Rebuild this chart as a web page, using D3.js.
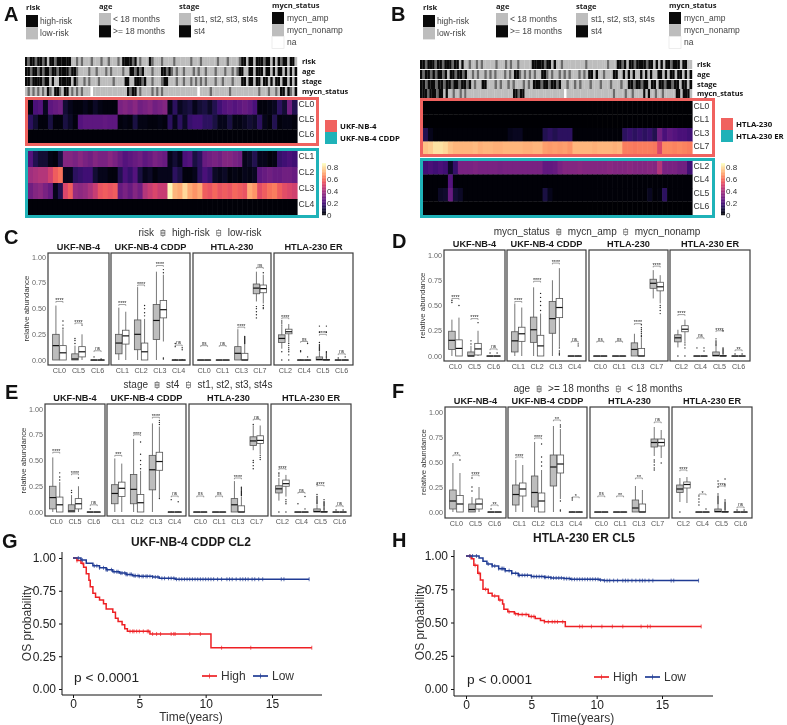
<!DOCTYPE html>
<html><head><meta charset="utf-8">
<script src="https://cdn.jsdelivr.net/npm/d3@7"></script>
<style>
html,body{margin:0;padding:0;background:#fff}
svg{display:block;font-family:"Liberation Sans",Arial,sans-serif;filter:blur(0.45px)}
.b{font-family:"Open Sans","Noto Sans",sans-serif;font-weight:700}
</style></head><body>
<svg id="c" width="787" height="725"></svg>
<script>
// ---------- heatmap data (values x100) ----------
const heatA_rows = ["CL0","CL5","CL6","CL1","CL2","CL3","CL4"];
const heatA_CL0 = [2,20,22,5,24,26,28,8,4,2,2,4,2,6,3,2,2,2,30,32,30,33,28,30,32,28,30,32,4,14,5,8,10,4,8,10,6,12,18,22,24,22,24,26,24,20,2,2,3,5,14,8,28,12];
const heatA_CL5 = [14,8,2,2,10,2,2,10,6,2,22,24,24,24,24,25,24,24,2,3,2,10,3,3,2,2,3,2,14,4,14,6,16,18,18,14,14,10,4,4,10,3,3,5,8,6,14,4,2,12,2,3,3,2];
const heatA_CL6 = [1,1,1,1,1,1,1,1,1,1,1,1,1,1,1,1,1,1,1,1,1,1,1,1,1,1,1,1,1,1,1,1,1,1,1,1,1,1,1,1,1,1,1,1,1,1,1,1,1,1,1,1,1,1];
const heatA_CL1 = [22,12,8,8,3,2,10,32,32,30,33,30,28,32,30,30,33,30,26,22,24,26,28,24,26,30,28,26,4,8,4,20,22,10,14,26,28,30,28,32,32,30,28,4,6,12,4,4,2,3,16,18,20,18];
const heatA_CL2 = [38,40,42,42,48,56,60,4,4,14,16,18,18,8,4,4,2,2,12,20,16,22,10,4,6,2,4,4,4,14,10,2,2,4,14,20,16,6,4,6,2,3,2,4,3,5,24,26,28,26,26,28,28,26];
const heatA_CL3 = [28,32,34,30,26,4,12,50,56,36,34,36,40,46,54,56,54,56,26,30,26,32,28,42,46,50,46,46,84,72,70,78,70,66,70,56,54,58,54,56,54,58,56,54,70,66,52,56,60,62,56,52,50,48];
const heatA_CL4 = [1,1,1,1,1,1,1,1,1,1,1,1,1,1,1,1,1,1,1,1,1,1,1,1,1,1,1,1,1,1,1,1,1,1,1,1,1,1,1,1,1,1,1,1,1,1,1,1,1,1,1,1,1,1];
const heatB_rows = ["CL0","CL1","CL3","CL7","CL2","CL4","CL5","CL6"];
const heatB_CL0 = [0,0,0,0,0,0,0,0,0,0,0,0,0,0,0,0,0,0,0,0,0,0,0,0,0,0,0,0,0,0,0,0,0,0,0,0,0,0,0,0,0,0,0,0,0,0,0,0,0,0,0,0,0,0];
const heatB_CL1 = heatB_CL0;
const heatB_CL3 = [12,4,1,1,1,1,1,1,1,1,1,1,1,1,1,1,1,4,5,5,1,1,1,1,12,14,12,14,14,14,1,1,1,1,1,1,1,1,1,1,14,16,14,16,14,16,12,28,20,24,22,20,20,18];
const heatB_CL7 = [74,76,80,80,78,74,72,72,72,72,73,71,72,72,71,71,72,72,72,72,71,71,72,72,68,67,68,67,68,66,72,72,72,72,71,72,72,72,71,72,62,62,61,62,62,62,61,50,64,64,63,64,63,62];
const heatB_CL2 = [18,20,18,20,18,6,16,30,30,30,31,30,30,30,30,29,30,30,30,30,30,30,30,30,25,25,26,30,32,32,32,33,32,32,32,32,32,33,32,32,32,33,32,32,32,33,32,42,30,30,30,28,28,18];
const heatB_CL4 = [1,1,1,1,1,22,1,1,1,1,1,1,1,1,1,1,1,1,1,1,1,1,1,1,1,1,1,1,1,1,1,1,1,1,1,1,1,1,1,1,1,1,1,1,1,1,1,1,1,1,1,1,1,1];
const heatB_CL5 = [1,1,1,6,7,26,8,6,1,1,1,1,1,1,1,1,1,1,1,1,1,1,1,1,10,4,1,1,1,1,1,1,1,1,1,1,1,1,1,1,1,1,1,1,1,5,1,2,14,1,1,1,1,1];
const heatB_CL6 = heatB_CL0;
const heatTicks = [0,0.2,0.4,0.6,0.8];

// ---------- annotation tracks (k black, m thin black stripe, g grey, w na) ----------
const trackNames = ["risk","age","stage","mycn_status"];
const trackA_risk = "kmkkmkkmkgkkmkkkkkkggmgmgggmgggmggmgggmgkkkkmkgmgggkmgggmggggmggggggmgggmggggggmgggmggggmkkgkkgkkkmkkgkgkmkkgkkg";
const trackA_age  = "kkmkkmkmkkmkkmkkkkmkkmggggmggmgggmgmggggmggkkmkmkgggmgggkkmkmgmggmgggmgmggmgggmgggmggmgmkkggkkgkkkgkkgkgkkgkgkgk";
const trackA_stage= "kkmkkkkmkkgkggkkkkkgkmggmgmgggmgggggmggggkkggkkkmkggmgggmkkgggmggmggmgmgmgmgggmggmgggmgggkkgkkgkkgkkgkgkkgkkgkgk";
const trackA_mycn = "gmgmgmgmgkmgkkmgkkgmgmgmgggwggggggggggggggkmkkgmggggmgmgmggggggggggggggwggggmgggggggmgggggggggggmgggmggmgkkgkmgk";
const trackB_risk = "kkmkkkmkkmkkkmkkgkggmggmgmgggggmgggmgmggmgggggkkkkkmkkgkggmgggggggggmggggggggmgggkkmkgkkmkkkkmkkgkgkgkkmkkkgkkgg";
const trackB_age  = "kmkkmkmkkmkgkkmkkmkggmgmggmgmgmgggmgmgkkmgmgmgmggkkmgmggmgmgmgggmgmgkkgkggmgggkkggkgkgkggkgkgkggkkgkgkkgkkgkgk";
const trackB_stage= "kkmkkkmkkmkkmkkmkkmkgmggkkgggmgmggmgmgggmgmgkkkmkkmkkmkggmggmgmgggmgggmgggmgggmggkkmkkmkkgkkgkkmkkmkkgkkgk";
const trackB_mycn = "kkkmkkkmkkgkggmggmgmggggggggggggggggggggkkmkkgggggggggggggggggwggggggggggggggggggggmggggmggmggggkgkggmggmgggggkkgkkkg";

// ---------- box plots: [lo,q1,med,q3,hi,...outliers] per category: [first,second] ----------
const facets = ["UKF-NB-4","UKF-NB-4 CDDP","HTLA-230","HTLA-230 ER"];
const facetCats = [["CL0","CL5","CL6"],["CL1","CL2","CL3","CL4"],["CL0","CL1","CL3","CL7"],["CL2","CL4","CL5","CL6"]];
const yTicks = [0,0.25,0.5,0.75,1];
const boxC = [
 [[0,0,.14,.25,.53],[0,0,.07,.14,.30,.31,.34,.38]],
 [[0,0,.01,.06,.14,.16,.19,.21],[0,.03,.08,.13,.25,.34]],
 [[0,0,0,0,.005,.03],[0,0,0,0,.005,.01]],
 [[0,.06,.165,.25,.51],[0,.155,.235,.29,.47]],
 [[0,.10,.25,.39,.71],[0,0,.08,.165,.40,.43,.46,.50,.53]],
 [[0,.20,.385,.54,.86],[.18,.41,.49,.58,.83,.01,.02,.85,.88]],
 [[0,0,0,0,.01,.13,.16],[0,0,0,0,.01,.10,.12]],
 [[0,0,0,0,0],[0,0,0,0,0]],
 [[0,0,0,0,0],[0,0,0,0,0]],
 [[0,0,.065,.13,.30],[0,0,0,.065,.155,.16,.17,.18,.19,.20,.21,.22,.23]],
 [[.57,.645,.70,.74,.86,.41,.44,.47,.50,.52],[.55,.655,.695,.73,.83,.50,.51,.53,.85]],
 [[.11,.17,.21,.245,.33,0,.08,.34,.36,.38],[.17,.255,.275,.30,.35,0,.05,.08,.10,.12,.14,.16]],
 [[0,0,0,0,.005,.08,.09],[0,0,0,0,.005,.03,.16]],
 [[0,0,.005,.03,.08,.09,.10,.11,.12,.13,.14,.15,.17,.27,.33],[0,0,0,.005,.01,.02,.03,.04,.05,.06,.07,.08,.27,.33]],
 [[0,0,0,0,.005,.02],[0,0,0,0,.005,.03]]];
const boxD = [
 [[0,.065,.155,.245,.36,.53,.55],[0,0,.075,.16,.38,.50]],
 [[0,0,0,.04,.10,.12,.15],[0,.01,.07,.125,.25,.33]],
 [[0,0,0,0,0,.03],[0,0,0,0,0,.03]],
 [[0,.04,.15,.24,.52],[0,.145,.22,.285,.48]],
 [[0,.135,.26,.385,.68],[0,0,.10,.205,.42,.45,.50,.54,.58,.62]],
 [[0,.225,.37,.54,.75],[.09,.38,.48,.57,.87,.01,.02,.03,.05,.08]],
 [[0,0,0,0,0],[0,0,0,0,.005,.10,.12]],
 [[0,0,0,0,0],[0,0,0,0,0]],
 [[0,0,0,0,0],[0,0,0,0,0]],
 [[0,0,.065,.13,.22],[0,0,0,.075,.18,.19,.20,.22,.24,.26,.28,.31]],
 [[.57,.67,.72,.76,.85],[.52,.645,.685,.73,.80,.42,.45,.48,.50]],
 [[.085,.14,.18,.21,.26,0],[.14,.24,.265,.30,.36,0,.08,.11,.13]],
 [[0,0,0,0,0,.08],[0,0,0,0,0,.05,.08]],
 [[0,0,.005,.04,.09,.10,.11,.12,.13,.14,.15,.17],[0,0,0,.005,.01,.02,.03,.04,.05,.06,.07,.08,.25]],
 [[0,0,0,0,0,.02],[0,0,0,0,0,.02]]];
const boxE = [
 [[0,.03,.14,.25,.53],[0,0,.07,.145,.29,.31,.34,.38]],
 [[0,0,.01,.07,.165,.19,.21],[0,.03,.08,.13,.25,.33]],
 [[0,0,0,0,0,.03],[0,0,0,0,0]],
 [[0,.08,.18,.265,.52],[0,.15,.23,.29,.47]],
 [[0,.08,.22,.365,.71],[0,0,.09,.17,.40,.42,.46,.50,.56,.68]],
 [[0,.215,.41,.55,.86],[.13,.405,.49,.58,.83,.13,.85,.87,.89]],
 [[0,0,0,0,.005,.12],[0,0,0,0,.005,.10]],
 [[0,0,0,0,0],[0,0,0,0,0]],
 [[0,0,0,0,0],[0,0,0,0,0]],
 [[0,0,.07,.13,.30],[0,0,0,.06,.15,.16,.17,.18,.19,.20,.21,.22,.23,.24]],
 [[.60,.645,.69,.73,.84,.42,.45,.48,.50,.85],[.56,.665,.695,.74,.84,.51,.53,.55]],
 [[.11,.185,.225,.255,.33,.35,.37,.38,0],[.15,.25,.275,.31,.36,0,.08,.10,.12]],
 [[0,0,0,0,0,.08],[0,0,0,0,0,.03,.15]],
 [[0,0,.005,.03,.07,.08,.09,.10,.11,.12,.13,.14,.15,.17,.27],[0,0,0,.005,.01,.02,.03,.04,.05,.06,.07,.08,.09,.10,.12]],
 [[0,0,0,0,0,.02],[0,0,0,0,0,.02]]];
const boxF = [
 [[0,.03,.11,.22,.49],[0,0,.08,.165,.39,.52]],
 [[0,0,.025,.08,.15,.21,.25,.34],[0,.03,.08,.13,.25]],
 [[0,0,0,0,0,.03],[0,0,0,0,0]],
 [[0,.07,.175,.27,.52],[0,.16,.23,.29,.47]],
 [[0,.05,.195,.36,.70],[0,0,.11,.19,.42,.46,.50,.55,.68]],
 [[0,.26,.45,.57,.86],[.13,.39,.48,.57,.83,.01,.02,.11,.85,.87]],
 [[0,0,0,0,.005,.12,.14],[0,0,0,0,.005]],
 [[0,0,0,0,0],[0,0,0,0,0]],
 [[0,0,0,0,0],[0,0,0,0,0]],
 [[0,0,.04,.12,.26],[0,0,0,.08,.22]],
 [[.56,.65,.695,.73,.85,.42,.44,.47,.50,.52],[.54,.66,.695,.73,.82,.49]],
 [[.10,.195,.23,.27,.34,0],[.09,.24,.275,.30,.35]],
 [[0,0,0,0,0,.07,.10,.13,.16],[0,0,0,0,0,.03]],
 [[0,0,.005,.03,.07,.08,.09,.10,.11,.12,.13,.14,.15,.16,.18,.25,.31],[0,0,0,.005,.01,.02,.03,.04,.05,.06,.07,.08,.09,.10,.12,.27,.33]],
 [[0,0,0,0,0,.02],[0,0,0,0,0,.02]]];
const sigC = [[.57,"****"],[.36,"****"],[.09,"ns"],[.54,"****"],[.73,"****"],[.92,"****"],[.145,"ns"],[.14,"ns"],[.14,"ns"],[.32,"****"],[.90,"ns"],[.41,"****"],[.18,"ns"],[.25,"****"],[.06,"ns"]];
const sigD = [[.57,"****"],[.37,"****"],[.07,"ns"],[.54,"****"],[.74,"****"],[.92,"****"],[.145,"ns"],[.145,"ns"],[.145,"ns"],[.32,"****"],[.89,"****"],[.41,"****"],[.18,"ns"],[.25,"****"],[.06,"**"]];
const sigE = [[.58,"****"],[.37,"****"],[.07,"ns"],[.55,"***"],[.75,"****"],[.92,"****"],[.155,"ns"],[.155,"ns"],[.155,"ns"],[.33,"****"],[.90,"ns"],[.42,"****"],[.19,"ns"],[.26,"****"],[.06,"ns"]];
const sigF = [[.57,"**"],[.37,"****"],[.07,"**"],[.55,"****"],[.74,"****"],[.92,"**"],[.15,"*"],[.16,"ns"],[.16,"**"],[.34,"**"],[.90,"ns"],[.42,"****"],[.18,"*"],[.26,"****"],[.05,"ns"]];

// ---------- survival ----------
const kmTicksX = [0,5,10,15];
const kmTicksY = [0,0.25,0.5,0.75,1];
const gHighT = [0,.3,.6,.8,1,1.2,1.3,1.5,1.7,2,2.3,2.5,3,3.2,3.4,3.7,3.9,4.1,5.8,10.4,18];
const gHighS = [1,.98,.96,.93,.88,.83,.78,.73,.70,.68,.65,.61,.585,.54,.515,.49,.46,.44,.42,.315,.315];
const gHighC = [.3,.7,4.3,4.5,4.6,4.8,5,5.3,5.6,5.7,6,6.3,6.6,7.4,7.6,7.7,8.8,9.6,11.2,13.4,18];
const gLowT = [0,.6,1,1.5,2,2.5,3,3.5,4,4.5,5,6,6.5,7.7,17.8];
const gLowS = [1,.985,.96,.94,.925,.91,.895,.885,.875,.865,.86,.855,.845,.838,.838];
const gLowC = [.4,.7,1.6,1.8,2,2.3,2.5,2.6,2.9,3.1,3.3,3.4,3.6,3.7,3.9,4,4.1,4.3,4.4,4.6,4.7,4.9,5,5.2,5.3,5.5,5.6,5.8,6,6.2,6.4,6.7,6.9,7.2,7.4,7.6,7.8,8,8.2,8.4,8.6,8.8,9,9.2,9.4,9.6,9.8,10,10.2,10.4,10.6,10.9,11.2,11.6,11.8,12,12.3,12.6,12.8,13,13.2,13.5,13.7,14,14.3,15.7,15.9,17.8];
const hHighT = [0,.4,.6,.9,1.1,1.3,1.7,2,2.5,2.8,2.9,3.2,3.7,4,4.8,5.3,5.7,6,7.6,18];
const hHighS = [1,.98,.93,.87,.82,.75,.72,.70,.67,.64,.60,.58,.565,.56,.545,.53,.515,.505,.47,.47];
const hHighC = [.3,.7,1,1.5,2.2,2.6,3.3,3.8,4,4.3,4.6,5,5.2,6,6.3,6.6,6.8,7,7.4,8.7,8.9,9.6,10.4,11.2,12,13.4,13.9,14.1,18];
const hLowT = [0,1,1.3,1.6,2,2.5,3,3.5,4,5,6,6.5,7.5,8,10.2,10.5,17.8];
const hLowS = [1,.985,.96,.94,.925,.905,.89,.87,.855,.845,.84,.835,.83,.825,.82,.815,.815];
const hLowC = [.3,.5,.8,1.7,2,2.2,2.5,2.7,2.8,2.9,3,3.3,3.5,3.8,4,4.1,4.3,4.5,4.7,5,5.2,5.4,5.6,5.8,6,6.1,6.3,6.5,6.7,6.9,7.1,7.3,7.5,7.7,7.9,8.1,8.3,8.5,8.7,8.9,9.1,9.3,9.5,9.7,9.9,10.1,10.3,10.6,10.8,11,11.3,11.6,12,12.2,12.4,12.7,13,13.3,13.5,13.7,14,14.3,15.7,15.9,17.8];

// ---------- colours ----------
const RED="#f0625f", TEAL="#1fb2b8", GREY="#bdbdbd", KM_RED="#ee2024", KM_BLUE="#1f3b94", INK="#3c3c3c";
const svg=d3.select("#c");
const heatColor=d3.scaleSequential(d3.interpolateMagma).domain([0,0.85]);
const trackColor={k:"#0a0a0a",m:"#6a6a6a",g:"#bdbdbd",w:"#ffffff"};

function txt(g,x,y,s,o={}){
  const t=g.append("text").attr("x",x).attr("y",y).text(s)
    .attr("font-size",o.size||8).attr("fill",o.fill||"#222");
  if(o.anchor)t.attr("text-anchor",o.anchor);
  if(o.bold)t.attr("class","b");
  if(o.arial)t.attr("font-weight",700);
  if(o.rot)t.attr("transform",`rotate(${o.rot} ${x} ${y})`);
  return t;
}

// ---------- legends at top ----------
function swatches(g,x,title,ty,items,sy,ldx){
  txt(g,x,ty,title,{bold:true,size:7.6});
  items.forEach((it,i)=>{
    g.append("rect").attr("x",x).attr("y",sy+i*12.2).attr("width",12).attr("height",12.2)
      .attr("fill",it[1]).attr("stroke",it[1]=="#ffffff"?"#e5e5e5":"none").attr("stroke-width",.7);
    txt(g,x+ldx,sy+i*12.2+9,it[0],{size:8.5,fill:"#444"});
  });
}
const riskItems=[["high-risk","#0a0a0a"],["low-risk",GREY]];
const ageItems=[["< 18 months",GREY],[">= 18 months","#0a0a0a"]];
const stageItems=[["st1, st2, st3, st4s",GREY],["st4","#0a0a0a"]];
const mycnItems=[["mycn_amp","#0a0a0a"],["mycn_nonamp",GREY],["na","#ffffff"]];
function topLegends(dx){
  const g=svg.append("g");
  swatches(g,26+dx,"risk",10,riskItems,15,14);
  swatches(g,99+dx,"age",9,ageItems,13,14);
  swatches(g,179+dx,"stage",9,stageItems,13,15);
  swatches(g,272+dx,"mycn_status",8,mycnItems,12,15);
}
topLegends(0); topLegends(397);

// ---------- heatmaps ----------
function heatmap(o){
  const g=svg.append("g");
  const x0=o.x0,x1=o.x1;
  o.tracks.forEach((str,i)=>{
    const cols=str.split("");
    const xs=d3.scaleBand().domain(d3.range(cols.length)).range([o.tx0,x1]);
    g.selectAll(null).data(cols).enter().append("rect")
      .attr("x",(d,j)=>xs(j)).attr("width",xs.bandwidth()+.2)
      .attr("y",o.trackY[i]).attr("height",o.trackH)
      .attr("fill",d=>trackColor[d]);
    txt(g,o.labelX,o.trackY[i]+o.trackH-2,trackNames[i],{bold:true,size:7.4,fill:"#111"});
  });
  const block=(rows,y0,y1,color,top,bot)=>{
    const ys=d3.scaleBand().domain(rows.map(r=>r[0])).range([y0,y1]);
    rows.forEach(r=>{
      const xs=d3.scaleBand().domain(d3.range(r[1].length)).range([x0,x1]);
      g.selectAll(null).data(r[1]).enter().append("rect")
        .attr("x",(d,j)=>xs(j)).attr("width",xs.bandwidth()+.6)
        .attr("y",ys(r[0])).attr("height",ys.bandwidth()+.3)
        .attr("fill",d=>heatColor(d/100));
      txt(g,x1+1.5,ys(r[0])+ys.bandwidth()/2+o.lblDy,r[0],{size:8.6,fill:"#333"});
    });
    g.append("rect").attr("x",o.boxX0+1.5).attr("y",top+1.5).attr("width",o.boxX1-o.boxX0-3).attr("height",bot-top-3)
      .attr("fill","none").attr("stroke",color).attr("stroke-width",3);
  };
  block(o.redRows,o.redY[0],o.redY[1],RED,o.redBox[0],o.redBox[1]);
  block(o.blueRows,o.blueY[0],o.blueY[1],TEAL,o.blueBox[0],o.blueBox[1]);
  [[o.names[0],RED],[o.names[1],TEAL]].forEach((n,i)=>{
    g.append("rect").attr("x",o.sideX).attr("y",o.sideY+i*12).attr("width",12).attr("height",12).attr("fill",n[1]);
    txt(g,o.sideX+15,o.sideY+i*12+9,n[0],{bold:true,size:7.8,fill:"#111"});
  });
  const cy=d3.scaleLinear().domain([0,0.8]).range([o.cb[1],o.cb[1]-48]);
  const steps=d3.range(0,0.851,0.0125);
  g.selectAll(null).data(steps).enter().append("rect")
    .attr("x",o.cbX).attr("width",4).attr("y",d=>cy(d)-.8).attr("height",1)
    .attr("fill",d=>heatColor(d));
  heatTicks.forEach(t=>txt(g,o.cbX+5,cy(t)+3,String(t),{size:8,fill:"#333"}));
}
heatmap({x0:28,x1:297,tx0:25,tracks:[trackA_risk,trackA_age,trackA_stage,trackA_mycn],trackY:[57,67,77,87],trackH:9,labelX:302,
  redRows:[["CL0",heatA_CL0],["CL5",heatA_CL5],["CL6",heatA_CL6]],redY:[100,144],redBox:[97,146],
  blueRows:[["CL1",heatA_CL1],["CL2",heatA_CL2],["CL3",heatA_CL3],["CL4",heatA_CL4]],blueY:[151,215],blueBox:[148,218],
  boxX0:25,boxX1:319,lblDy:0,names:["UKF-NB-4","UKF-NB-4 CDDP"],sideX:325,sideY:120,cbX:322,cb:[166,215]});
heatmap({x0:423,x1:692,tx0:420,tracks:[trackB_risk,trackB_age,trackB_stage,trackB_mycn],trackY:[60,70,80,89],trackH:9,labelX:697,
  redRows:[["CL0",heatB_CL0],["CL1",heatB_CL1],["CL3",heatB_CL3],["CL7",heatB_CL7]],redY:[101,155],redBox:[98,157],
  blueRows:[["CL2",heatB_CL2],["CL4",heatB_CL4],["CL5",heatB_CL5],["CL6",heatB_CL6]],blueY:[161,215],blueBox:[158,218],
  boxX0:420,boxX1:715,lblDy:1,names:["HTLA-230","HTLA-230 ER"],sideX:721,sideY:118,cbX:721,cb:[166,215]});

// ---------- box plot panels ----------
function keyGlyph(g,x,y,fill){
  g.append("line").attr("x1",x).attr("x2",x).attr("y1",y-4.5).attr("y2",y+3.5).attr("stroke","#666").attr("stroke-width",.7);
  g.append("rect").attr("x",x-2).attr("y",y-3).attr("width",4).attr("height",5).attr("fill",fill).attr("stroke","#666").attr("stroke-width",.7);
  g.append("line").attr("x1",x-2).attr("x2",x+2).attr("y1",y-.5).attr("y2",y-.5).attr("stroke","#444").attr("stroke-width",.7);
}
function boxPanel(o){
  const g=svg.append("g");
  const y=d3.scaleLinear().domain([0,1]).range([o.y0,o.y1]);
  let idx=0;
  o.fx.forEach((fx,fi)=>{
    const fg=g.append("g");
    const xs=d3.scalePoint().domain(facetCats[fi]).range(fx).padding(0.6);
    const step=xs.step(), bw=step*0.345, off=step*0.185;
    fg.append("rect").attr("x",fx[0]).attr("y",o.top).attr("width",fx[1]-fx[0]).attr("height",o.bottom-o.top)
      .attr("fill","#fff").attr("stroke",INK).attr("stroke-width",1.2);
    txt(fg,(fx[0]+fx[1])/2,o.top-3.5,facets[fi],{anchor:"middle",size:9.2,arial:true,fill:"#1a1a1a"});
    facetCats[fi].forEach(c=>{
      const pair=o.data[idx], sig=o.sig[idx]; idx++;
      const cx=xs(c);
      pair.forEach((b,k)=>{
        const bx=cx+(k?off:-off);
        const [lo,q1,med,q3,hi,...out]=b;
        fg.append("line").attr("x1",bx).attr("x2",bx).attr("y1",y(lo)).attr("y2",y(hi)).attr("stroke","#555").attr("stroke-width",.8);
        fg.append("rect").attr("x",bx-bw/2).attr("width",bw).attr("y",y(q3)).attr("height",Math.max(y(q1)-y(q3),.2))
          .attr("fill",k?"#fff":GREY).attr("stroke","#555").attr("stroke-width",.8);
        fg.append("line").attr("x1",bx-bw/2).attr("x2",bx+bw/2).attr("y1",y(med)).attr("y2",y(med)).attr("stroke","#111").attr("stroke-width",1.2);
        fg.selectAll(null).data(out).enter().append("circle").attr("cx",bx).attr("cy",d=>y(d)).attr("r",.7).attr("fill","#222");
      });
      const sy=y(sig[0]);
      fg.append("path").attr("d",`M${cx-off},${sy+1.3}V${sy}H${cx+off}V${sy+1.3}`).attr("fill","none").attr("stroke","#444").attr("stroke-width",.5);
      txt(fg,cx,sy-(sig[1]=="ns"?.8:-.8),sig[1],{anchor:"middle",size:sig[1]=="ns"?4.6:5.4,fill:"#222"});
      txt(fg,cx,o.bottom+8,c,{anchor:"middle",size:7.2,fill:"#555"});
    });
    if(fi==0) yTicks.forEach(t=>{
      txt(g,fx[0]-2,y(t)+2.5,d3.format(".2f")(t),{anchor:"end",size:7.2,fill:"#666"});
    });
  });
  txt(g,o.ylx,(o.y0+o.y1)/2,"relative abundance",{anchor:"middle",size:7.8,fill:"#333",rot:-90});
  const lg=g.append("g");
  const parts=[o.legend[0],o.legend[1],o.legend[2]];
  const meas=parts.map(p=>{const t=lg.append("text").attr("font-size",10).text(p);const w=t.node().getComputedTextLength();t.remove();return w;});
  const total=meas[0]+meas[1]+meas[2]+2*18;
  let lx=o.legendC-total/2;
  txt(lg,lx,o.legendY,parts[0],{size:10,fill:"#333"}); lx+=meas[0]+9;
  keyGlyph(lg,lx,o.legendY-2,"#ddd"); lx+=9;
  txt(lg,lx,o.legendY,parts[1],{size:10,fill:"#333"}); lx+=meas[1]+9;
  keyGlyph(lg,lx,o.legendY-2,"#fff"); lx+=9;
  txt(lg,lx,o.legendY,parts[2],{size:10,fill:"#333"});
}
boxPanel({data:boxC,sig:sigC,fx:[[48,109],[111,190],[193,271],[274,353]],top:253,bottom:365,y0:360,y1:257.3,ylx:29,
  legend:["risk","high-risk","low-risk"],legendC:200,legendY:235.5});
boxPanel({data:boxD,sig:sigD,fx:[[444,505],[507,586],[589,668],[670,750]],top:250,bottom:361,y0:356,y1:255,ylx:425,
  legend:["mycn_status","mycn_amp","mycn_nonamp"],legendC:597,legendY:234.5});
boxPanel({data:boxE,sig:sigE,fx:[[45,105],[107,186],[189,268],[271,351]],top:404,bottom:516,y0:512,y1:409,ylx:26,
  legend:["stage","st4","st1, st2, st3, st4s"],legendC:198,legendY:387.5});
boxPanel({data:boxF,sig:sigF,fx:[[445,506],[508,587],[590,669],[672,752]],top:407,bottom:518,y0:512,y1:412,ylx:426,
  legend:["age",">= 18 months","< 18 months"],legendC:598,legendY:391.5});

// ---------- survival panels ----------
function km(o){
  const g=svg.append("g");
  const x=d3.scaleLinear().domain([0,15]).range([o.x0,o.x15]);
  const y=d3.scaleLinear().domain([0,1]).range([o.y0,o.y1]);
  const line=d3.line().curve(d3.curveStepAfter).x(d=>x(d[0])).y(d=>y(d[1]));
  const surv=(T,S,t)=>S[Math.max(0,d3.bisectRight(T,t)-1)];
  o.series.forEach(s=>{
    g.append("path").attr("d",line(d3.zip(s.t,s.s))).attr("fill","none").attr("stroke",s.c).attr("stroke-width",1.5);
    g.selectAll(null).data(s.cens).enter().append("path")
      .attr("d",d=>`M${x(d)},${y(surv(s.t,s.s,d))-2}v4`).attr("stroke",s.c).attr("stroke-width",.7);
  });
  const ax=g.append("g").attr("transform",`translate(0,${o.bottom})`)
    .call(d3.axisBottom(x).tickValues(kmTicksX).tickSize(3).tickFormat(d3.format("d")));
  ax.select(".domain").attr("d",`M${o.left},0H${o.right}`).attr("stroke","#111").attr("stroke-width",1);
  ax.selectAll("line").attr("stroke","#111");
  ax.selectAll("text").attr("font-size",12).attr("fill","#222").attr("font-family","Liberation Sans").attr("dy","0.6em");
  const ay=g.append("g").attr("transform",`translate(${o.left},0)`)
    .call(d3.axisLeft(y).tickValues(kmTicksY).tickSize(3).tickFormat(d3.format(".2f")));
  ay.select(".domain").attr("d",`M0,${o.bottom}V${o.top}`).attr("stroke","#111").attr("stroke-width",1);
  ay.selectAll("line").attr("stroke","#111");
  ay.selectAll("text").attr("font-size",12).attr("fill","#222").attr("font-family","Liberation Sans");
  txt(g,(o.left+o.right)/2-1,o.bottom+26,"Time(years)",{anchor:"middle",size:12,fill:"#333"});
  txt(g,o.ylx,(o.y0+o.y1)/2,"OS probability",{anchor:"middle",size:12,fill:"#333",rot:-90});
  txt(g,o.titleX,o.titleY,o.title,{anchor:"middle",size:12,arial:true,fill:"#1a1a1a"});
  txt(g,o.px,o.py,"p < 0.0001",{size:13.7,fill:"#222"});
  [["High",KM_RED,o.lg[0]],["Low",KM_BLUE,o.lg[1]]].forEach(l=>{
    g.append("line").attr("x1",l[2]).attr("x2",l[2]+15).attr("y1",o.lgY).attr("y2",o.lgY).attr("stroke",l[1]).attr("stroke-width",1.7);
    g.append("line").attr("x1",l[2]+7.5).attr("x2",l[2]+7.5).attr("y1",o.lgY-2.5).attr("y2",o.lgY+2.5).attr("stroke",l[1]).attr("stroke-width",.7);
    txt(g,l[2]+19,o.lgY+4,l[0],{size:12,fill:"#333"});
  });
}
km({x0:73,x15:272,y0:689,y1:558,left:62,right:322,top:552,bottom:695,ylx:31,title:"UKF-NB-4 CDDP CL2",titleX:191,titleY:546,
  px:74,py:682,lg:[202,253],lgY:676,
  series:[{t:gHighT,s:gHighS,cens:gHighC,c:KM_RED},{t:gLowT,s:gLowS,cens:gLowC,c:KM_BLUE}]});
km({x0:466,x15:662,y0:689,y1:556,left:454,right:713,top:550,bottom:696,ylx:424,title:"HTLA-230 ER CL5",titleX:584,titleY:542,
  px:467,py:684,lg:[594,645],lgY:677,
  series:[{t:hHighT,s:hHighS,cens:hHighC,c:KM_RED},{t:hLowT,s:hLowS,cens:hLowC,c:KM_BLUE}]});

// ---------- panel letters ----------
const panelLetters=[["A",4,21],["B",391,21],["C",4,244],["D",392,248],["E",5,399],["F",392,398],["G",2,548],["H",392,547]];
panelLetters.forEach(p=>txt(svg,p[1],p[2],p[0],{size:20,arial:true,fill:"#111"}));
</script>
</body></html>
